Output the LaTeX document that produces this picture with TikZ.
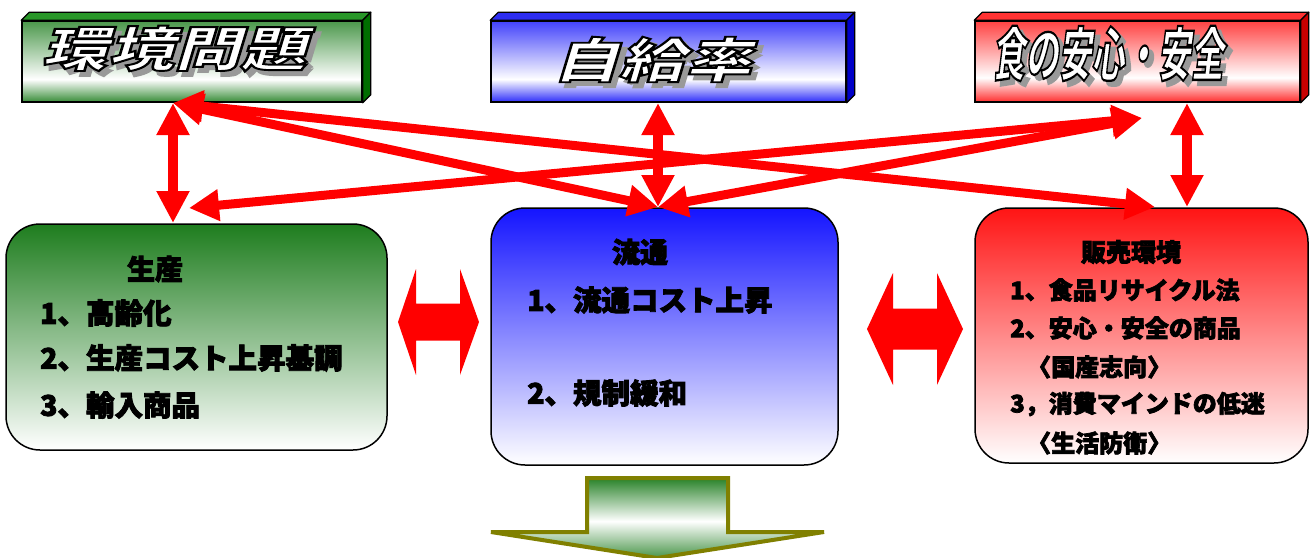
\documentclass[tikz,border=0pt]{standalone}
\usepackage{fontspec}
\setmainfont{Noto Sans CJK JP}[BoldFeatures={FakeBold=3}]
\newfontfamily\ttlfont{Noto Sans CJK JP}[FakeSlant=0.22, FakeBold=4]
\usetikzlibrary{arrows.meta}

\definecolor{barG}{RGB}{55,140,55}
\definecolor{barGtop}{RGB}{40,150,40}
\definecolor{barGside}{RGB}{0,110,0}
\definecolor{barB}{RGB}{45,45,250}
\definecolor{barBtop}{RGB}{45,45,240}
\definecolor{barBside}{RGB}{0,0,200}
\definecolor{barR}{RGB}{255,45,45}
\definecolor{barRtop}{RGB}{255,50,50}
\definecolor{barRside}{RGB}{200,0,0}
\definecolor{boxG}{RGB}{30,125,30}
\definecolor{boxB}{RGB}{20,20,255}
\definecolor{boxR}{RGB}{255,20,20}
\definecolor{arrR}{RGB}{255,0,0}
\definecolor{oliveE}{RGB}{128,128,0}
\definecolor{arrG}{RGB}{40,130,40}

\pgfdeclareverticalshading{shG}{100bp}{color(0bp)=(barG); color(25bp)=(barG); color(39bp)=(white); color(75bp)=(barG!90!white); color(100bp)=(barG!90!white)}
\pgfdeclareverticalshading{shB}{100bp}{color(0bp)=(barB); color(25bp)=(barB); color(39bp)=(white); color(75bp)=(barB!90!white); color(100bp)=(barB!90!white)}
\pgfdeclareverticalshading{shR}{100bp}{color(0bp)=(barR); color(25bp)=(barR); color(40bp)=(white); color(75bp)=(barR!90!white); color(100bp)=(barR!90!white)}
\pgfdeclareverticalshading{shArr}{100bp}{color(0bp)=(arrG!85!white); color(25bp)=(arrG!85!white); color(48bp)=(white); color(75bp)=(arrG); color(100bp)=(arrG)}

% title: gray drop shadow, then white fill with black stroke (fake-bold stroke)
\newcommand\ttl[2]{%
  \scalebox{#1}[1]{%
    \pgfmathsetlengthmacro\shx{5pt/#1}%
    \rlap{\kern\shx\raisebox{-5pt}{\textcolor{black!40}{#2}}}%
    \special{pdf:bcolor [1] [0]}#2\special{pdf:ecolor}}}

\begin{document}
\begin{tikzpicture}[x=1pt,y=-1pt,
  bar/.style={draw=black, line width=1.5pt, minimum height=81pt, inner sep=0pt},
  face/.style={draw=black, line width=1.2pt, line join=round},
  box/.style={draw=black, line width=1.5pt, rounded corners=34pt, inner sep=0pt},
  ttlnode/.style={inner sep=0pt, font=\ttlfont\bfseries\fontsize{48}{50}\selectfont},
  txt/.style={anchor=west, inner sep=0pt, font=\bfseries\fontsize{28.5}{30}\selectfont},
  txtc/.style={inner sep=0pt, font=\bfseries\fontsize{28}{30}\selectfont},
  stxt/.style={anchor=west, inner sep=0pt, font=\bfseries\fontsize{24}{26}\selectfont},
  varr/.style={draw=arrR, line width=10pt, >={Triangle[length=32pt,width=31pt]}, <->},
  darr/.style={draw=arrR, line width=9pt, >={Triangle[length=30pt,width=30pt]}, <->}
]
\path[fill=white,use as bounding box] (0,0) rectangle (1312,557);

% ---- top 3D bars
\node[bar, shading=shG, minimum width=340pt] (envT) at (192,61.5) {};
\node[bar, shading=shB, minimum width=355pt] (selfT) at (668.5,61.5) {};
\node[bar, shading=shR, minimum width=325pt] (foodT) at (1137.5,61.5) {};
\foreach \n/\t/\s in {envT/barGtop/barGside, selfT/barBtop/barBside, foodT/barRtop/barRside}{
  \filldraw[face, fill=\t] (\n.north west) -- ++(8,-8) -- ([shift={(8,-8)}]\n.north east) -- (\n.north east) -- cycle;
  \filldraw[face, fill=\s] (\n.north east) -- ++(8,-8) -- ([shift={(8,-8)}]\n.south east) -- (\n.south east) -- cycle;
}
\node[ttlnode] (t1) at (174,51) {\ttl{1.38}{環境問題}};
\node[ttlnode] (t2) at (652,62) {\ttl{1.38}{自給率}};
\node[ttlnode, font=\ttlfont\bfseries\fontsize{58}{60}\selectfont] (t3) at (1108,56) {\ttl{0.57}{食の安心・安全}};

% ---- lower boxes
\node[box, top color=boxG, middle color=boxG!32!white, bottom color=white, minimum width=381pt, minimum height=226pt] (prod) at (196.5,337) {};
\node[box, top color=boxB, middle color=boxB!38!white, bottom color=white, minimum width=347pt, minimum height=257pt] (dist) at (664.5,336.5) {};
\node[box, top color=boxR, middle color=boxR!42!white, bottom color=white, minimum width=333pt, minimum height=255pt] (sale) at (1141.5,335.5) {};

\node[txtc] (prodH) at (155,269) {生産};
\node[txt] (p1) at (40,313) {1、高齢化};
\node[txt] (p2) at (40,358) {2、生産コスト上昇基調};
\node[txt] (p3) at (40,405) {3、輸入商品};

\node[txtc] (distH) at (640,252) {流通};
\node[txt] (d1) at (527,300) {1、流通コスト上昇};
\node[txt] (d2) at (527,393) {2、規制緩和};

\node[inner sep=0pt, font=\bfseries\fontsize{25}{27}\selectfont] (saleH) at (1131,252) {販売環境};
\node[stxt] (s1) at (1010,290) {1、食品リサイクル法};
\node[stxt] (s2) at (1010,328) {2、安心・安全の商品};
\node[stxt] (s3) at (1027,367) {〈国産志向〉};
\node[stxt] (s4) at (1010,404) {3，消費マインドの低迷};
\node[stxt] (s5) at (1027,443) {〈生活防衛〉};

% ---- connector end points
\coordinate (gB) at (173,103);
\coordinate (gT) at (173,223);
\coordinate (bB) at (658,103);
\coordinate (bT) at (658,207);
\coordinate (rB) at (1187,103);
\coordinate (rT) at (1187,207);
\coordinate (rL) at (1142,118);
\coordinate (gR) at (189,208);
\coordinate (rD) at (1155,207);

% ---- red arrows
\draw[darr] (gB) -- (bT);
\draw[darr] (gB) -- (rD);
\draw[darr] (rL) -- (gR);
\draw[darr] (rL) -- (bT);
\draw[varr] (gB) -- (gT);
\draw[varr] (bB) -- (bT);
\draw[varr] (rB) -- (rT);

% ---- block double arrows between boxes
\fill[arrR] (398,322) -- (416,269) -- (416,303.5) -- (460,303.5) -- (460,269) -- (479,322)
  -- (460,375) -- (460,340.5) -- (416,340.5) -- (416,375) -- cycle;
\fill[arrR] (867,329) -- (893,273) -- (893,308.5) -- (937,308.5) -- (937,273) -- (963,329)
  -- (937,385) -- (937,349.5) -- (893,349.5) -- (893,385) -- cycle;

% ---- bottom arrow
\path[draw=oliveE, line width=4pt, shading=shArr] (587,478) -- (728,478) -- (728,532) -- (824,532)
  -- (657,558) -- (491,532) -- (587,532) -- cycle;
\end{tikzpicture}
\end{document}
